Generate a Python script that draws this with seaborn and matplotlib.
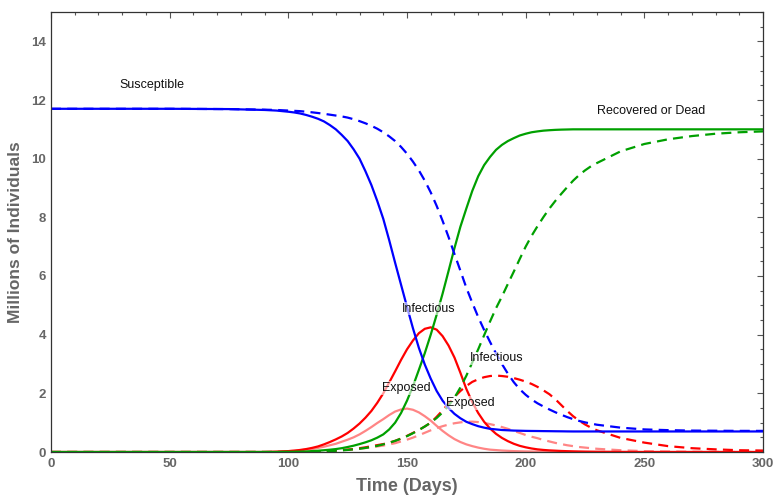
import matplotlib
matplotlib.use("Agg")
import matplotlib.pyplot as plt
import seaborn as sns
import pandas as pd
from matplotlib.ticker import MultipleLocator

# ---------------- data ----------------
days = [0, 25, 50, 75, 90, 95, 100, 102.5, 105, 107.5,
        110, 112.5, 115, 117.5, 120, 122.5, 125, 127.5, 130, 132.5,
        135, 137.5, 140, 142.5, 145, 147.5, 150, 152.5, 155, 157.5,
        160, 162.5, 165, 167.5, 170, 172.5, 175, 177.5, 180, 182.5,
        185, 187.5, 190, 192.5, 195, 197.5, 200, 202.5, 205, 207.5,
        210, 212.5, 215, 217.5, 220, 222.5, 225, 227.5, 230, 240,
        250, 260, 270, 280, 290, 300]

susceptible_1 = [11.70, 11.70, 11.70, 11.69, 11.66, 11.64, 11.60, 11.575, 11.54, 11.49,
                 11.43, 11.36, 11.27, 11.145, 11.00, 10.81, 10.60, 10.32, 10.00, 9.57,
                 9.10, 8.55, 7.95, 7.22, 6.45, 5.70, 4.95, 4.22, 3.55, 2.98,
                 2.50, 2.08, 1.75, 1.50, 1.30, 1.15, 1.03, 0.95, 0.88, 0.83,
                 0.79, 0.77, 0.75, 0.74, 0.73, 0.725, 0.72, 0.717, 0.715, 0.712,
                 0.71, 0.707, 0.705, 0.702, 0.70, 0.70, 0.70, 0.70, 0.70, 0.70,
                 0.70, 0.70, 0.70, 0.70, 0.70, 0.70]
susceptible_2 = [11.70, 11.70, 11.70, 11.69, 11.67, 11.66, 11.64, 11.63, 11.62, 11.60,
                 11.58, 11.556, 11.53, 11.50, 11.47, 11.44, 11.40, 11.345, 11.28, 11.205,
                 11.12, 11.02, 10.90, 10.76, 10.60, 10.40, 10.17, 9.90, 9.60, 9.25,
                 8.85, 8.39, 7.88, 7.33, 6.75, 6.18, 5.60, 5.09, 4.60, 4.16,
                 3.75, 3.36, 3.00, 2.67, 2.38, 2.14, 1.95, 1.79, 1.66, 1.55,
                 1.45, 1.355, 1.27, 1.19, 1.12, 1.06, 1.01, 0.97, 0.93, 0.83,
                 0.77, 0.745, 0.73, 0.725, 0.72, 0.72]
recovered_1 = [0, 0, 0, 0, 0, 0, 0.005, 0.007, 0.01, 0.018,
               0.03, 0.043, 0.06, 0.078, 0.10, 0.13, 0.17, 0.215, 0.27, 0.33,
               0.40, 0.49, 0.60, 0.77, 1.00, 1.33, 1.75, 2.24, 2.80, 3.37,
               4.00, 4.68, 5.40, 6.17, 6.95, 7.68, 8.30, 8.90, 9.40, 9.78,
               10.06, 10.30, 10.47, 10.60, 10.70, 10.79, 10.85, 10.90, 10.93, 10.955,
               10.97, 10.982, 10.99, 10.995, 11.0, 11.0, 11.0, 11.0, 11.0, 11.0,
               11.0, 11.0, 11.0, 11.0, 11.0, 11.0]
recovered_2 = [0, 0, 0, 0, 0, 0, 0, 0, 0, 0,
               0.005, 0.012, 0.02, 0.03, 0.04, 0.055, 0.07, 0.09, 0.11, 0.14,
               0.17, 0.21, 0.26, 0.315, 0.38, 0.455, 0.54, 0.64, 0.75, 0.87,
               1.00, 1.16, 1.35, 1.58, 1.85, 2.20, 2.60, 3.05, 3.50, 3.98,
               4.45, 4.90, 5.30, 5.73, 6.15, 6.58, 7.00, 7.37, 7.70, 8.01,
               8.30, 8.56, 8.80, 9.03, 9.25, 9.44, 9.60, 9.74, 9.85, 10.25,
               10.50, 10.66, 10.77, 10.85, 10.90, 10.93]
infectious_1 = [0, 0, 0, 0, 0, 0.01, 0.03, 0.045, 0.07, 0.10,
                0.14, 0.19, 0.26, 0.34, 0.43, 0.53, 0.65, 0.80, 0.97, 1.17,
                1.40, 1.68, 2.00, 2.37, 2.75, 3.14, 3.50, 3.80, 4.05, 4.20,
                4.25, 4.17, 3.95, 3.63, 3.22, 2.70, 2.15, 1.70, 1.33, 1.03,
                0.80, 0.62, 0.48, 0.37, 0.28, 0.21, 0.16, 0.12, 0.09, 0.07,
                0.055, 0.045, 0.035, 0.028, 0.022, 0.017, 0.013, 0.01, 0.008, 0.003,
                0, 0, 0, 0, 0, 0]
infectious_2 = [0, 0, 0, 0, 0, 0, 0.005, 0.007, 0.01, 0.015,
                0.02, 0.025, 0.03, 0.04, 0.05, 0.065, 0.08, 0.10, 0.13, 0.16,
                0.20, 0.235, 0.27, 0.32, 0.38, 0.46, 0.55, 0.65, 0.75, 0.87,
                1.00, 1.20, 1.42, 1.65, 1.88, 2.08, 2.25, 2.39, 2.48, 2.55,
                2.59, 2.605, 2.59, 2.565, 2.52, 2.465, 2.40, 2.32, 2.22, 2.10,
                1.97, 1.80, 1.60, 1.40, 1.22, 1.07, 0.94, 0.83, 0.74, 0.48,
                0.32, 0.20, 0.13, 0.09, 0.06, 0.05]
exposed_1 = [0, 0, 0, 0, 0, 0.01, 0.03, 0.045, 0.06, 0.08,
             0.10, 0.14, 0.18, 0.23, 0.28, 0.35, 0.42, 0.50, 0.60, 0.72,
             0.85, 0.99, 1.12, 1.26, 1.38, 1.45, 1.48, 1.44, 1.35, 1.22,
             1.07, 0.89, 0.72, 0.57, 0.44, 0.34, 0.26, 0.20, 0.15, 0.11,
             0.08, 0.065, 0.05, 0.04, 0.03, 0.025, 0.02, 0.017, 0.015, 0.012,
             0.01, 0.007, 0.005, 0.002, 0, 0, 0, 0, 0, 0,
             0, 0, 0, 0, 0, 0]
exposed_2 = [0, 0, 0, 0, 0, 0, 0.005, 0.007, 0.01, 0.015,
             0.02, 0.025, 0.03, 0.04, 0.05, 0.065, 0.08, 0.095, 0.11, 0.135,
             0.16, 0.19, 0.22, 0.26, 0.30, 0.36, 0.42, 0.49, 0.57, 0.655,
             0.74, 0.815, 0.88, 0.935, 0.98, 1.01, 1.03, 1.035, 1.02, 0.99,
             0.95, 0.905, 0.85, 0.79, 0.72, 0.65, 0.58, 0.52, 0.47, 0.41,
             0.36, 0.31, 0.27, 0.23, 0.20, 0.17, 0.15, 0.13, 0.11, 0.06,
             0.03, 0.02, 0.01, 0.005, 0, 0]

labels_text = ["Susceptible", "Recovered or Dead", "Infectious", "Infectious",
               "Exposed", "Exposed"]
labels_x = [42.6, 252.8, 159.3, 187.9, 149.6, 176.5]
labels_y = [12.51, 11.63, 4.88, 3.20, 2.18, 1.67]

# ---------------- styling ----------------
sns.set_style("white")
plt.rcParams["font.family"] = ["Liberation Sans", "DejaVu Sans"]

BLUE = "#0000FF"
GREEN = "#00A000"
RED = "#FF0000"
PINK = "#FF8585"
GRAY = "#666666"

df = pd.DataFrame({
    "day": days,
    "S1": susceptible_1, "S2": susceptible_2,
    "R1": recovered_1, "R2": recovered_2,
    "I1": infectious_1, "I2": infectious_2,
    "E1": exposed_1, "E2": exposed_2,
})

fig = plt.figure(figsize=(7.73, 4.98), dpi=100)
ax = fig.add_axes([51 / 773, 1 - 452 / 498, (763 - 51) / 773, (452 - 12) / 498])

series = [
    ("E2", PINK, True), ("E1", PINK, False),
    ("I2", RED, True), ("I1", RED, False),
    ("R2", GREEN, True), ("R1", GREEN, False),
    ("S2", BLUE, True), ("S1", BLUE, False),
]
for col, color, dashed in series:
    line_ax = sns.lineplot(data=df, x="day", y=col, ax=ax, color=color,
                           linewidth=1.6, sort=False)
    ln = line_ax.lines[-1]
    ln.set_solid_joinstyle("round")
    if dashed:
        ln.set_dashes([4.5, 2.8])

for t, x, y in zip(labels_text, labels_x, labels_y):
    ax.text(x, y, t, ha="center", va="center", fontsize=9, color="#111111",
            bbox=dict(boxstyle="square,pad=0.05", fc="white", ec="none", alpha=0.6),
            zorder=5)

ax.set_xlim(0, 300)
ax.set_ylim(0, 15)
ax.xaxis.set_major_locator(MultipleLocator(50))
ax.xaxis.set_minor_locator(MultipleLocator(10))
ax.yaxis.set_major_locator(MultipleLocator(2))
ax.yaxis.set_minor_locator(MultipleLocator(0.5))
ax.tick_params(which="both", direction="in", top=True, right=True,
               color="#555555", width=0.8)
ax.tick_params(which="major", length=4.5)
ax.tick_params(which="minor", length=2.5)
ax.tick_params(axis="x", which="major", pad=4)
for lab in ax.get_xticklabels() + ax.get_yticklabels():
    lab.set_fontweight("bold")
    lab.set_color(GRAY)
    lab.set_fontsize(9.5)

for sp in ax.spines.values():
    sp.set_visible(True)
    sp.set_color("#333333")
    sp.set_linewidth(0.9)

ax.set_xlabel("Time (Days)", fontsize=13, fontweight="bold", color=GRAY)
ax.xaxis.set_label_coords(0.5, -(478 - 452) / 440)
ax.set_ylabel("Millions of Individuals", fontsize=12.5, fontweight="bold", color=GRAY)
ax.yaxis.set_label_coords((23 - 51) / 712, 0.5)
ax.grid(False)

fig.savefig("out.png", dpi=100)
